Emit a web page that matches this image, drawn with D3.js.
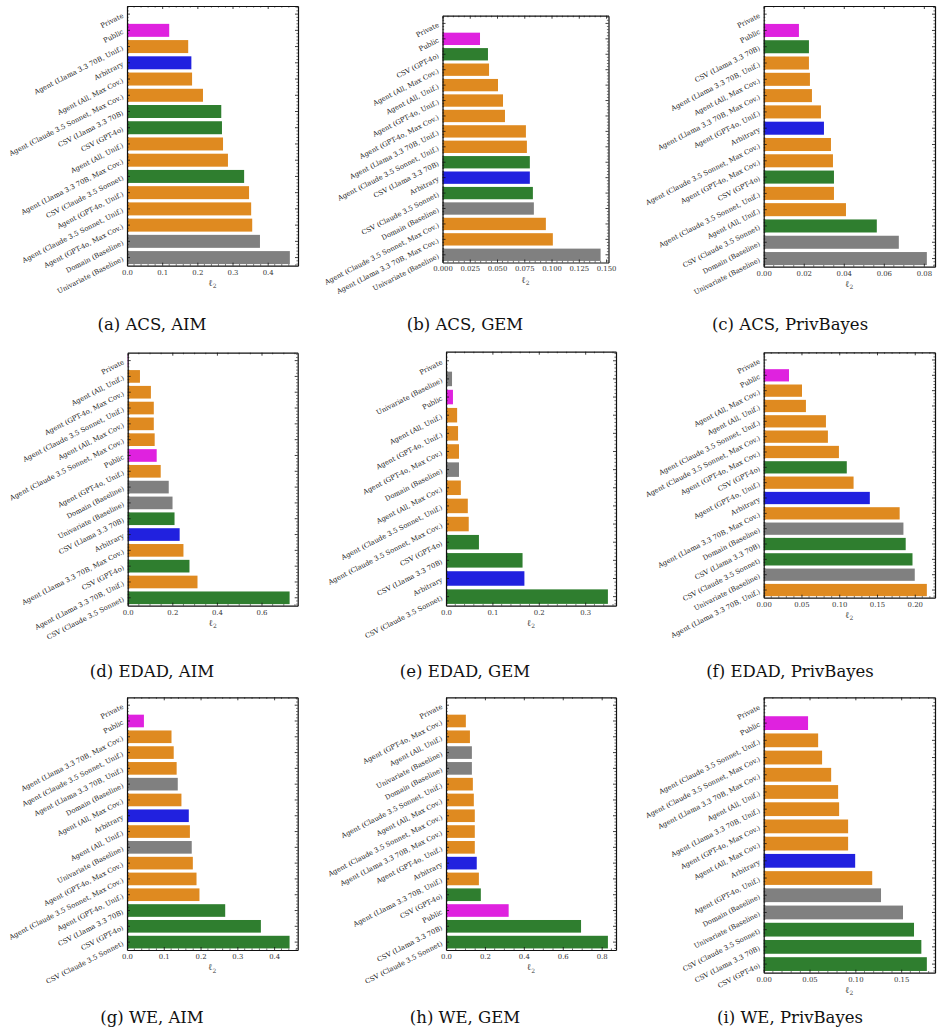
<html>
<head>
<title>l2 error by generation method</title>
<script src="https://d3js.org/d3.v7.min.js"></script>
<style>
    body { margin: 0; background: white; }
    text { font-family: "DejaVu Serif", serif; fill: #222; }
    .caption { font-family: "DejaVu Serif", serif; font-size: 16.5px; fill: #111; }
    .tick text { font-size: 6.9px; fill: #333; }
    .domain { stroke: #111; stroke-width: 1.2; }
    .tick line { stroke: #111; stroke-width: 0.8; }
</style>
</head>
<body>
<svg id="chart" width="942" height="1032"></svg>
<script>

// ---- data, one pair of arrays per panel (top bar first) ----
const acsAimLabels = ["Private", "Public", "Agent (Llama 3.3 70B, Unif.)", "Arbitrary", "Agent (All, Max Cov.)",
    "Agent (Claude 3.5 Sonnet, Max Cov.)", "CSV (Llama 3.3 70B)", "CSV (GPT-4o)", "Agent (All, Unif.)",
    "Agent (Llama 3.3 70B, Max Cov.)", "CSV (Claude 3.5 Sonnet)", "Agent (GPT-4o, Unif.)",
    "Agent (Claude 3.5 Sonnet, Unif.)", "Agent (GPT-4o, Max Cov.)", "Domain (Baseline)", "Univariate (Baseline)"];
const acsAimValues = [0.002, 0.120, 0.174, 0.183, 0.185, 0.216, 0.268, 0.270, 0.273, 0.287, 0.333, 0.347, 0.353, 0.356, 0.378, 0.463];
const acsAimTicks = [0, 0.1, 0.2, 0.3, 0.4];

const acsGemLabels = ["Private", "Public", "CSV (GPT-4o)", "Agent (All, Max Cov.)", "Agent (All, Unif.)",
    "Agent (GPT-4o, Unif.)", "Agent (GPT-4o, Max Cov.)", "Agent (Llama 3.3 70B, Unif.)",
    "Agent (Claude 3.5 Sonnet, Unif.)", "CSV (Llama 3.3 70B)", "Arbitrary", "CSV (Claude 3.5 Sonnet)",
    "Domain (Baseline)", "Agent (Claude 3.5 Sonnet, Max Cov.)", "Agent (Llama 3.3 70B, Max Cov.)", "Univariate (Baseline)"];
const acsGemValues = [0, 0.0344, 0.0417, 0.0427, 0.0509, 0.0555, 0.0573, 0.0765, 0.0774, 0.0801, 0.0801, 0.0829, 0.0838, 0.0948, 0.1012, 0.145];
const acsGemTicks = [0, 0.025, 0.05, 0.075, 0.1, 0.125, 0.15];

const acsPbLabels = ["Private", "Public", "CSV (Llama 3.3 70B)", "Agent (Llama 3.3 70B, Unif.)", "Agent (All, Max Cov.)",
    "Agent (Llama 3.3 70B, Max Cov.)", "Agent (GPT-4o, Unif.)", "Arbitrary", "Agent (Claude 3.5 Sonnet, Max Cov.)",
    "Agent (GPT-4o, Max Cov.)", "CSV (GPT-4o)", "Agent (Claude 3.5 Sonnet, Unif.)", "Agent (All, Unif.)",
    "CSV (Claude 3.5 Sonnet)", "Domain (Baseline)", "Univariate (Baseline)"];
const acsPbValues = [0, 0.0176, 0.0226, 0.0226, 0.0231, 0.0241, 0.0286, 0.0301, 0.0336, 0.0346, 0.0351, 0.0351, 0.0411, 0.0565, 0.0675, 0.0815];
const acsPbTicks = [0, 0.02, 0.04, 0.06, 0.08];

const edadAimLabels = ["Private", "Agent (All, Unif.)", "Agent (GPT-4o, Max Cov.)", "Agent (Claude 3.5 Sonnet, Unif.)",
    "Agent (All, Max Cov.)", "Agent (Claude 3.5 Sonnet, Max Cov.)", "Public", "Agent (GPT-4o, Unif.)",
    "Domain (Baseline)", "Univariate (Baseline)", "CSV (Llama 3.3 70B)", "Arbitrary",
    "Agent (Llama 3.3 70B, Max Cov.)", "CSV (GPT-4o)", "Agent (Llama 3.3 70B, Unif.)", "CSV (Claude 3.5 Sonnet)"];
const edadAimValues = [0.002, 0.055, 0.104, 0.117, 0.117, 0.121, 0.130, 0.148, 0.184, 0.201, 0.210, 0.233, 0.250, 0.277, 0.313, 0.726];
const edadAimTicks = [0, 0.2, 0.4, 0.6];

const edadGemLabels = ["Private", "Univariate (Baseline)", "Public", "Agent (All, Unif.)", "Agent (GPT-4o, Unif.)",
    "Agent (GPT-4o, Max Cov.)", "Domain (Baseline)", "Agent (All, Max Cov.)", "Agent (Claude 3.5 Sonnet, Unif.)",
    "Agent (Claude 3.5 Sonnet, Max Cov.)", "CSV (GPT-4o)", "CSV (Llama 3.3 70B)", "Arbitrary", "CSV (Claude 3.5 Sonnet)"];
const edadGemValues = [0.0005, 0.013, 0.015, 0.024, 0.026, 0.028, 0.028, 0.032, 0.047, 0.049, 0.071, 0.165, 0.169, 0.349];
const edadGemTicks = [0, 0.1, 0.2, 0.3];

const edadPbLabels = ["Private", "Public", "Agent (All, Max Cov.)", "Agent (All, Unif.)", "Agent (Claude 3.5 Sonnet, Unif.)",
    "Agent (Claude 3.5 Sonnet, Max Cov.)", "Agent (GPT-4o, Max Cov.)", "CSV (GPT-4o)", "Agent (GPT-4o, Unif.)",
    "Arbitrary", "Agent (Llama 3.3 70B, Max Cov.)", "Domain (Baseline)", "CSV (Llama 3.3 70B)",
    "CSV (Claude 3.5 Sonnet)", "Univariate (Baseline)", "Agent (Llama 3.3 70B, Unif.)"];
const edadPbValues = [0, 0.0335, 0.0507, 0.0559, 0.0824, 0.0850, 0.0996, 0.110, 0.119, 0.1405, 0.180, 0.185, 0.188, 0.197, 0.200, 0.216];
const edadPbTicks = [0, 0.05, 0.1, 0.15, 0.2];

const weAimLabels = ["Private", "Public", "Agent (Llama 3.3 70B, Max Cov.)", "Agent (Claude 3.5 Sonnet, Unif.)",
    "Agent (Llama 3.3 70B, Unif.)", "Domain (Baseline)", "Agent (All, Max Cov.)", "Arbitrary", "Agent (All, Unif.)",
    "Univariate (Baseline)", "Agent (GPT-4o, Max Cov.)", "Agent (Claude 3.5 Sonnet, Max Cov.)",
    "Agent (GPT-4o, Unif.)", "CSV (Llama 3.3 70B)", "CSV (GPT-4o)", "CSV (Claude 3.5 Sonnet)"];
const weAimValues = [0.002, 0.046, 0.121, 0.127, 0.135, 0.138, 0.148, 0.168, 0.171, 0.176, 0.179, 0.189, 0.197, 0.267, 0.364, 0.442];
const weAimTicks = [0, 0.1, 0.2, 0.3, 0.4];

const weGemLabels = ["Private", "Agent (GPT-4o, Max Cov.)", "Agent (All, Unif.)", "Univariate (Baseline)",
    "Domain (Baseline)", "Agent (Claude 3.5 Sonnet, Unif.)", "Agent (All, Max Cov.)",
    "Agent (Claude 3.5 Sonnet, Max Cov.)", "Agent (Llama 3.3 70B, Max Cov.)", "Agent (GPT-4o, Unif.)", "Arbitrary",
    "Agent (Llama 3.3 70B, Unif.)", "CSV (GPT-4o)", "Public", "CSV (Llama 3.3 70B)", "CSV (Claude 3.5 Sonnet)"];
const weGemValues = [0.001, 0.102, 0.123, 0.133, 0.133, 0.138, 0.143, 0.148, 0.148, 0.148, 0.158, 0.169, 0.179, 0.322, 0.694, 0.832];
const weGemTicks = [0, 0.2, 0.4, 0.6, 0.8];

const wePbLabels = ["Private", "Public", "Agent (Claude 3.5 Sonnet, Unif.)", "Agent (Claude 3.5 Sonnet, Max Cov.)",
    "Agent (Llama 3.3 70B, Max Cov.)", "Agent (All, Unif.)", "Agent (Llama 3.3 70B, Unif.)", "Agent (GPT-4o, Max Cov.)",
    "Agent (All, Max Cov.)", "Arbitrary", "Agent (GPT-4o, Unif.)", "Domain (Baseline)", "Univariate (Baseline)",
    "CSV (Claude 3.5 Sonnet)", "CSV (Llama 3.3 70B)", "CSV (GPT-4o)"];
const wePbValues = [0, 0.0484, 0.0594, 0.0637, 0.0736, 0.0812, 0.0823, 0.0921, 0.0921, 0.0998, 0.1184, 0.128, 0.152, 0.164, 0.172, 0.178];
const wePbTicks = [0, 0.05, 0.1, 0.15];

const panels = [
    {caption: "(a) ACS, AIM", labels: acsAimLabels, values: acsAimValues, ticks: acsAimTicks, fmt: ".1f"},
    {caption: "(b) ACS, GEM", labels: acsGemLabels, values: acsGemValues, ticks: acsGemTicks, fmt: ".3f"},
    {caption: "(c) ACS, PrivBayes", labels: acsPbLabels, values: acsPbValues, ticks: acsPbTicks, fmt: ".2f"},
    {caption: "(d) EDAD, AIM", labels: edadAimLabels, values: edadAimValues, ticks: edadAimTicks, fmt: ".1f"},
    {caption: "(e) EDAD, GEM", labels: edadGemLabels, values: edadGemValues, ticks: edadGemTicks, fmt: ".1f"},
    {caption: "(f) EDAD, PrivBayes", labels: edadPbLabels, values: edadPbValues, ticks: edadPbTicks, fmt: ".2f"},
    {caption: "(g) WE, AIM", labels: weAimLabels, values: weAimValues, ticks: weAimTicks, fmt: ".1f"},
    {caption: "(h) WE, GEM", labels: weGemLabels, values: weGemValues, ticks: weGemTicks, fmt: ".1f"},
    {caption: "(i) WE, PrivBayes", labels: wePbLabels, values: wePbValues, ticks: wePbTicks, fmt: ".2f"}
];

// frame of each subplot (left, right, top, bottom) and caption spot
const boxes = [
    {x0: 127, x1: 298, y0: 6, y1: 265.7, cx: 152, cy: 330},
    {x0: 442.5, x1: 608.5, y0: 15.7, y1: 262.5, cx: 465, cy: 330},
    {x0: 763.7, x1: 935, y0: 6, y1: 266.7, cx: 790, cy: 330},
    {x0: 127.7, x1: 297.7, y0: 352.7, y1: 605.7, cx: 152, cy: 677},
    {x0: 446, x1: 616, y0: 351.7, y1: 605.7, cx: 465, cy: 677},
    {x0: 763.7, x1: 935, y0: 352.3, y1: 597.7, cx: 790, cy: 677},
    {x0: 127, x1: 297.7, y0: 697.3, y1: 950, cx: 152, cy: 1023},
    {x0: 446, x1: 616, y0: 697.3, y1: 950, cx: 465, cy: 1023},
    {x0: 763.7, x1: 935, y0: 697.3, y1: 972.7, cx: 790, cy: 1023}
];

function barColor(label) {
    if (label === "Private" || label === "Public") return "#df22df";
    if (label === "Arbitrary") return "#2121df";
    if (label.startsWith("CSV")) return "#2f7e2f";
    if (label.endsWith("(Baseline)")) return "#808080";
    return "#df8a20";
}

// matplotlib AutoMinorLocator style minor ticks
function minorTicks(ticks, xmax) {
    const step = ticks[1] - ticks[0];
    const mant = step / Math.pow(10, Math.floor(Math.log10(step) + 1e-9));
    const ndivs = [1, 2.5, 5, 10].some(m => Math.abs(m - mant) < 1e-6) ? 5 : 4;
    const out = [];
    for (let k = 1; k * step / ndivs <= xmax; k++) {
        if (k % ndivs !== 0) out.push(k * step / ndivs);
    }
    return out;
}

const svg = d3.select("#chart");

panels.forEach((p, i) => {
    const b = boxes[i];
    const g = svg.append("g");
    const rows = p.labels.map((l, j) => ({label: l, value: p.values[j]}));

    const x = d3.scaleLinear()
        .domain([0, d3.max(p.values) * 1.05])
        .range([b.x0, b.x1]);

    const y = d3.scaleBand()
        .domain(p.labels)
        .range([b.y0, b.y1])
        .paddingInner(0.2)
        .paddingOuter(0.1);

    g.selectAll("rect.bar").data(rows)
        .join("rect")
        .attr("class", "bar")
        .attr("x", x(0))
        .attr("y", d => y(d.label))
        .attr("width", d => x(d.value) - x(0))
        .attr("height", y.bandwidth())
        .attr("fill", d => barColor(d.label));

    // axes, ticks point inwards on all four sides
    g.append("g")
        .attr("transform", `translate(0,${b.y1})`)
        .call(d3.axisBottom(x).tickValues(p.ticks).tickFormat(d3.format(p.fmt))
            .tickSizeInner(-3).tickSizeOuter(0).tickPadding(4));

    g.append("g")
        .attr("transform", `translate(0,${b.y0})`)
        .call(d3.axisTop(x).tickValues(p.ticks).tickFormat("")
            .tickSizeInner(-3).tickSizeOuter(0));

    g.append("g")
        .attr("transform", `translate(${b.x0},0)`)
        .call(d3.axisLeft(y).tickFormat("").tickSizeInner(-3).tickSizeOuter(0));

    g.append("g")
        .attr("transform", `translate(${b.x1},0)`)
        .call(d3.axisRight(y).tickFormat("").tickSizeInner(-3).tickSizeOuter(0));

    // minor ticks
    const minors = minorTicks(p.ticks, x.domain()[1]);
    g.append("g").selectAll("line").data(minors)
        .join("line")
        .attr("x1", d => x(d)).attr("x2", d => x(d))
        .attr("y1", b.y1).attr("y2", b.y1 - 1.6)
        .attr("stroke", "#111").attr("stroke-width", 0.6);
    g.append("g").selectAll("line").data(minors)
        .join("line")
        .attr("x1", d => x(d)).attr("x2", d => x(d))
        .attr("y1", b.y0).attr("y2", b.y0 + 1.6)
        .attr("stroke", "#111").attr("stroke-width", 0.6);

    const n = p.labels.length;
    const yIdx = d3.scaleLinear().domain([-0.5, n - 0.5]).range([b.y0, b.y1]);
    const yMinor = d3.range(-0.4, n - 0.5, 0.2).filter(v => Math.abs(v - Math.round(v)) > 1e-6);
    [b.x0, b.x1].forEach(ax => {
        const dir = ax === b.x0 ? 1 : -1;
        g.append("g").selectAll("line").data(yMinor)
            .join("line")
            .attr("x1", ax).attr("x2", ax + dir * 1.6)
            .attr("y1", d => yIdx(d)).attr("y2", d => yIdx(d))
            .attr("stroke", "#111").attr("stroke-width", 0.6);
    });

    // rotated category labels
    g.append("g").selectAll("text").data(p.labels)
        .join("text")
        .attr("transform", d => `translate(${b.x0 - 4},${y(d) + y.bandwidth() / 2 + 1}) rotate(-27)`)
        .attr("text-anchor", "end")
        .attr("dy", "0.32em")
        .style("font-size", "6.8px")
        .text(d => d);

    // x label
    const xl = g.append("text")
        .attr("x", (b.x0 + b.x1) / 2)
        .attr("y", b.y1 + 20)
        .attr("text-anchor", "middle")
        .style("font-size", "9px")
        .style("fill", "#444");
    xl.append("tspan").text("\u2113");
    xl.append("tspan").attr("dy", "2.5").style("font-size", "6px").text("2");

    svg.append("text")
        .attr("class", "caption")
        .attr("x", b.cx)
        .attr("y", b.cy)
        .attr("text-anchor", "middle")
        .text(p.caption);
});

</script>
</body>
</html>
